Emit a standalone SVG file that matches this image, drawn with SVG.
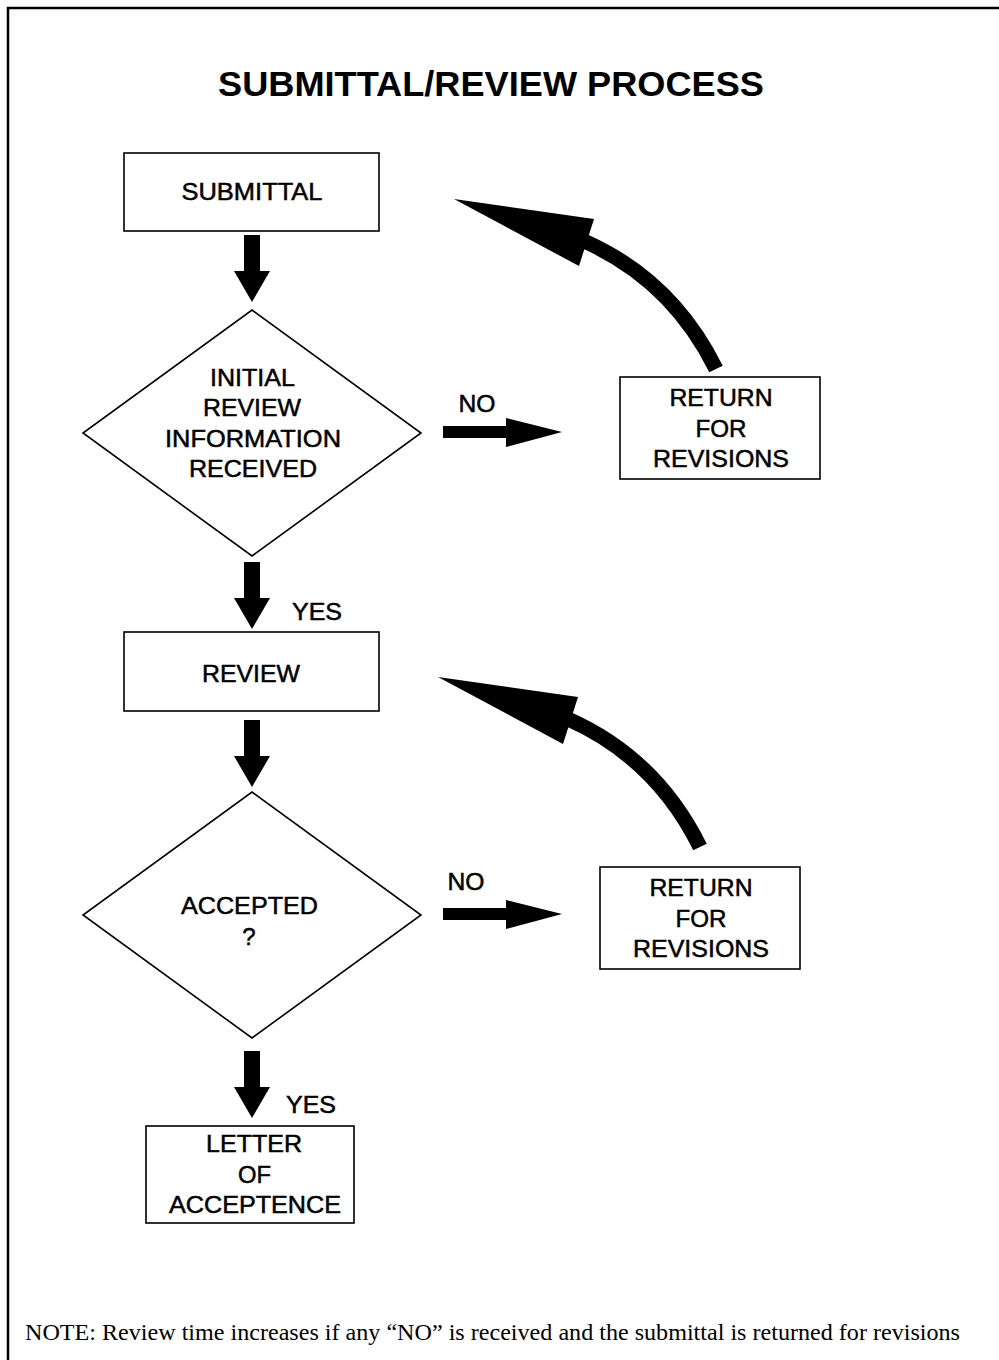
<svg xmlns="http://www.w3.org/2000/svg" width="999" height="1360" viewBox="0 0 999 1360">
<style>
.bg{fill:#fff}
.frame{fill:none;stroke:#000;stroke-width:2.5}
.box{fill:#fff;stroke:#000;stroke-width:1.6}
.lbl{font-family:"Liberation Sans",Arial,sans-serif;font-size:24px;fill:#000;stroke:#000;stroke-width:0.5;text-anchor:middle}
.title{font-family:"Liberation Sans",Arial,sans-serif;font-size:35px;font-weight:bold;fill:#000;text-anchor:middle}
.note{font-family:"Liberation Serif","Times New Roman",serif;font-size:23px;fill:#000}
.fill{fill:#000;stroke:none}
.curve{fill:none;stroke:#000;stroke-width:15}
</style>
<defs>
<path id="down" d="M -8 0 H 8 V 36 H 18 L 0 67 L -18 36 H -8 Z"/>
<path id="right" d="M 0 -6 H 63 V -14 L 119 0 L 63 15 V 6 H 0 Z"/>
<g id="curved">
<path class="curve" d="M 584 241 Q 672 280 716 369"/>
<polygon class="fill" points="454,199 594,219 579,266"/>
</g>
</defs>
<rect class="bg" x="0" y="0" width="999" height="1360"/>
<path class="frame" d="M 8 1360 V 8 H 999"/>
<text class="title" x="491" y="96" textLength="546" lengthAdjust="spacingAndGlyphs">SUBMITTAL/REVIEW PROCESS</text>

<g id="connectors">
<use href="#down" class="fill" x="252" y="235"/>
<use href="#down" class="fill" x="252" y="562"/>
<use href="#down" class="fill" x="252" y="720"/>
<use href="#down" class="fill" x="252" y="1051"/>
<use href="#right" class="fill" x="443" y="432"/>
<use href="#right" class="fill" x="443" y="914"/>
<use href="#curved"/>
<use href="#curved" transform="translate(-16,478)"/>
<text class="lbl" x="477" y="412" textLength="37" lengthAdjust="spacingAndGlyphs">NO</text>
<text class="lbl" x="317" y="620" textLength="50" lengthAdjust="spacingAndGlyphs">YES</text>
<text class="lbl" x="466" y="890" textLength="37" lengthAdjust="spacingAndGlyphs">NO</text>
<text class="lbl" x="311" y="1113" textLength="50" lengthAdjust="spacingAndGlyphs">YES</text>
</g>

<g id="submittal">
<rect class="box" x="124" y="153" width="255" height="78"/>
<text class="lbl" x="252" y="200" textLength="141" lengthAdjust="spacingAndGlyphs">SUBMITTAL</text>
</g>

<g id="initial-review">
<polygon class="box" points="252,310 421,433 252,556 83,433"/>
<text class="lbl" x="252.5" y="386" textLength="85" lengthAdjust="spacingAndGlyphs">INITIAL</text>
<text class="lbl" x="252" y="416" textLength="98" lengthAdjust="spacingAndGlyphs">REVIEW</text>
<text class="lbl" x="253" y="447" textLength="176" lengthAdjust="spacingAndGlyphs">INFORMATION</text>
<text class="lbl" x="253" y="477" textLength="128" lengthAdjust="spacingAndGlyphs">RECEIVED</text>
</g>

<g id="return1">
<rect class="box" x="620" y="377" width="200" height="102"/>
<text class="lbl" x="721" y="406" textLength="103" lengthAdjust="spacingAndGlyphs">RETURN</text>
<text class="lbl" x="721" y="437" textLength="51" lengthAdjust="spacingAndGlyphs">FOR</text>
<text class="lbl" x="721" y="467" textLength="136" lengthAdjust="spacingAndGlyphs">REVISIONS</text>
</g>

<g id="review">
<rect class="box" x="124" y="632" width="255" height="79"/>
<text class="lbl" x="251" y="682" textLength="98" lengthAdjust="spacingAndGlyphs">REVIEW</text>
</g>

<g id="accepted">
<polygon class="box" points="252,792 421,915 252,1038 83,915"/>
<text class="lbl" x="249.5" y="914" textLength="137" lengthAdjust="spacingAndGlyphs">ACCEPTED</text>
<text class="lbl" x="249" y="945">?</text>
</g>

<g id="return2">
<rect class="box" x="600" y="867" width="200" height="102"/>
<text class="lbl" x="701" y="896" textLength="103" lengthAdjust="spacingAndGlyphs">RETURN</text>
<text class="lbl" x="701" y="927" textLength="51" lengthAdjust="spacingAndGlyphs">FOR</text>
<text class="lbl" x="701" y="957" textLength="136" lengthAdjust="spacingAndGlyphs">REVISIONS</text>
</g>

<g id="letter">
<rect class="box" x="146" y="1126" width="208" height="97"/>
<text class="lbl" x="254" y="1152" textLength="96" lengthAdjust="spacingAndGlyphs">LETTER</text>
<text class="lbl" x="254.5" y="1183" textLength="33" lengthAdjust="spacingAndGlyphs">OF</text>
<text class="lbl" x="255" y="1213" textLength="172" lengthAdjust="spacingAndGlyphs">ACCEPTENCE</text>
</g>

<text class="note" x="25" y="1340" textLength="935" lengthAdjust="spacingAndGlyphs">NOTE: Review time increases if any “NO” is received and the submittal is returned for revisions</text>
</svg>
